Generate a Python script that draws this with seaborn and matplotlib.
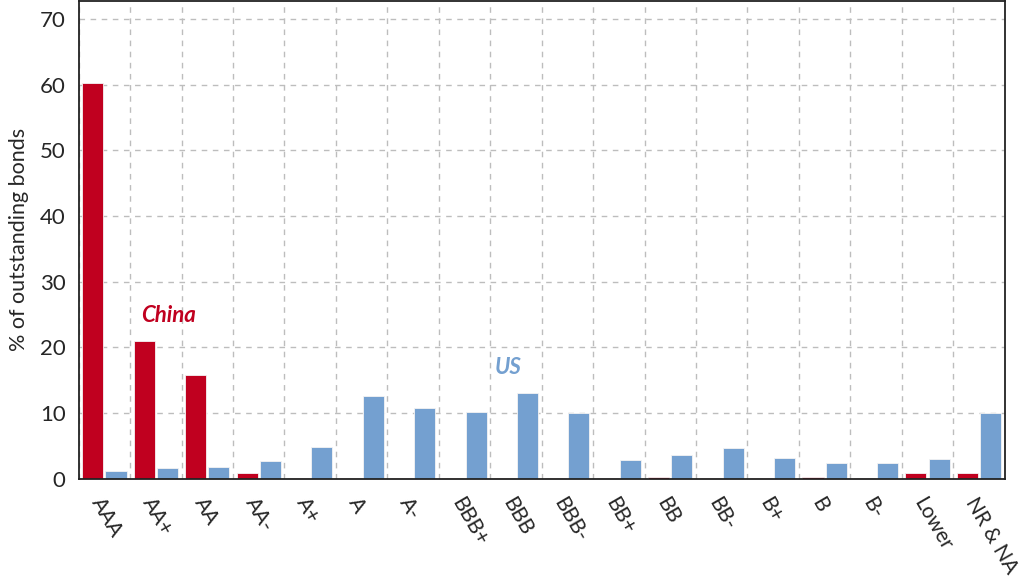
import matplotlib
matplotlib.use("Agg")
import matplotlib.pyplot as plt
import matplotlib.transforms as mtransforms
import numpy as np
import pandas as pd
import seaborn as sns

ratings = ["AAA", "AA+", "AA", "AA-", "A+", "A", "A-", "BBB+", "BBB", "BBB-",
           "BB+", "BB", "BB-", "B+", "B", "B-", "Lower", "NR & NA"]
china = [60.2, 20.9, 15.8, 0.9, 0.1, 0.1, 0.05, 0.05, 0.05, 0.05,
         0.05, 0.2, 0.05, 0.05, 0.2, 0.05, 0.9, 0.8]
us = [1.2, 1.6, 1.7, 2.7, 4.8, 12.6, 10.7, 10.2, 13.1, 10.0,
      2.9, 3.6, 4.7, 3.1, 2.3, 2.4, 3.0, 10.0]

red = "#C0001F"
blue = "#74A0D0"

df = pd.DataFrame({
    "rating": ratings * 2,
    "value": china + us,
    "country": ["China"] * len(ratings) + ["US"] * len(ratings),
})

sns.set_style("white")
plt.rcParams["font.family"] = ["Lato", "DejaVu Sans"]

fig = plt.figure(figsize=(10.22, 5.78), dpi=100)
ax = fig.add_axes([0.077, 0.172, 0.906, 0.826])

sns.barplot(data=df, x="rating", y="value", hue="country", order=ratings,
            hue_order=["China", "US"], palette=[red, blue], saturation=1,
            width=0.9, gap=0.09, edgecolor="#f4f4f4", linewidth=0.6,
            legend=False, ax=ax)

ax.set_xlim(-0.5, len(ratings) - 0.5)
ax.set_ylim(0, 72.7)
ax.set_yticks(range(0, 71, 10))
ax.set_xticks(range(len(ratings)))
ax.set_xticklabels(ratings, rotation=-60, ha="left", va="top",
                   rotation_mode="anchor", fontsize=15)
# nudge the rotated labels a little to the right
offset = mtransforms.ScaledTranslation(3 / 72, 0, fig.dpi_scale_trans)
for lab in ax.get_xticklabels():
    lab.set_transform(lab.get_transform() + offset)
ax.set_xticks(np.arange(-0.5, len(ratings), 1), minor=True)
ax.tick_params(axis="x", which="major", length=0, pad=11)
ax.tick_params(axis="x", which="minor", length=6, width=1.2, color="#222222")
ax.tick_params(axis="y", length=6, width=1.2, color="#222222", labelsize=16)

ax.grid(False)
ax.grid(True, axis="y", which="major", linestyle=(0, (4, 4)), color="#bdbdbd", lw=1)
ax.grid(True, axis="x", which="minor", linestyle=(0, (4, 4)), color="#bdbdbd", lw=1)
ax.set_axisbelow(True)

for s in ax.spines.values():
    s.set_visible(True)
    s.set_color("#222222")
    s.set_linewidth(1.3)

ax.set_xlabel("")
ax.set_ylabel("% of outstanding bonds", fontsize=15.5, labelpad=8)

ax.text(1.24, 24.8, "China", color=red, fontsize=16, fontweight="bold",
        fontstyle="italic", ha="center", va="center")
ax.text(7.84, 16.9, "US", color=blue, fontsize=16, fontweight="bold",
        fontstyle="italic", ha="center", va="center")

fig.savefig("out.png", dpi=100)
